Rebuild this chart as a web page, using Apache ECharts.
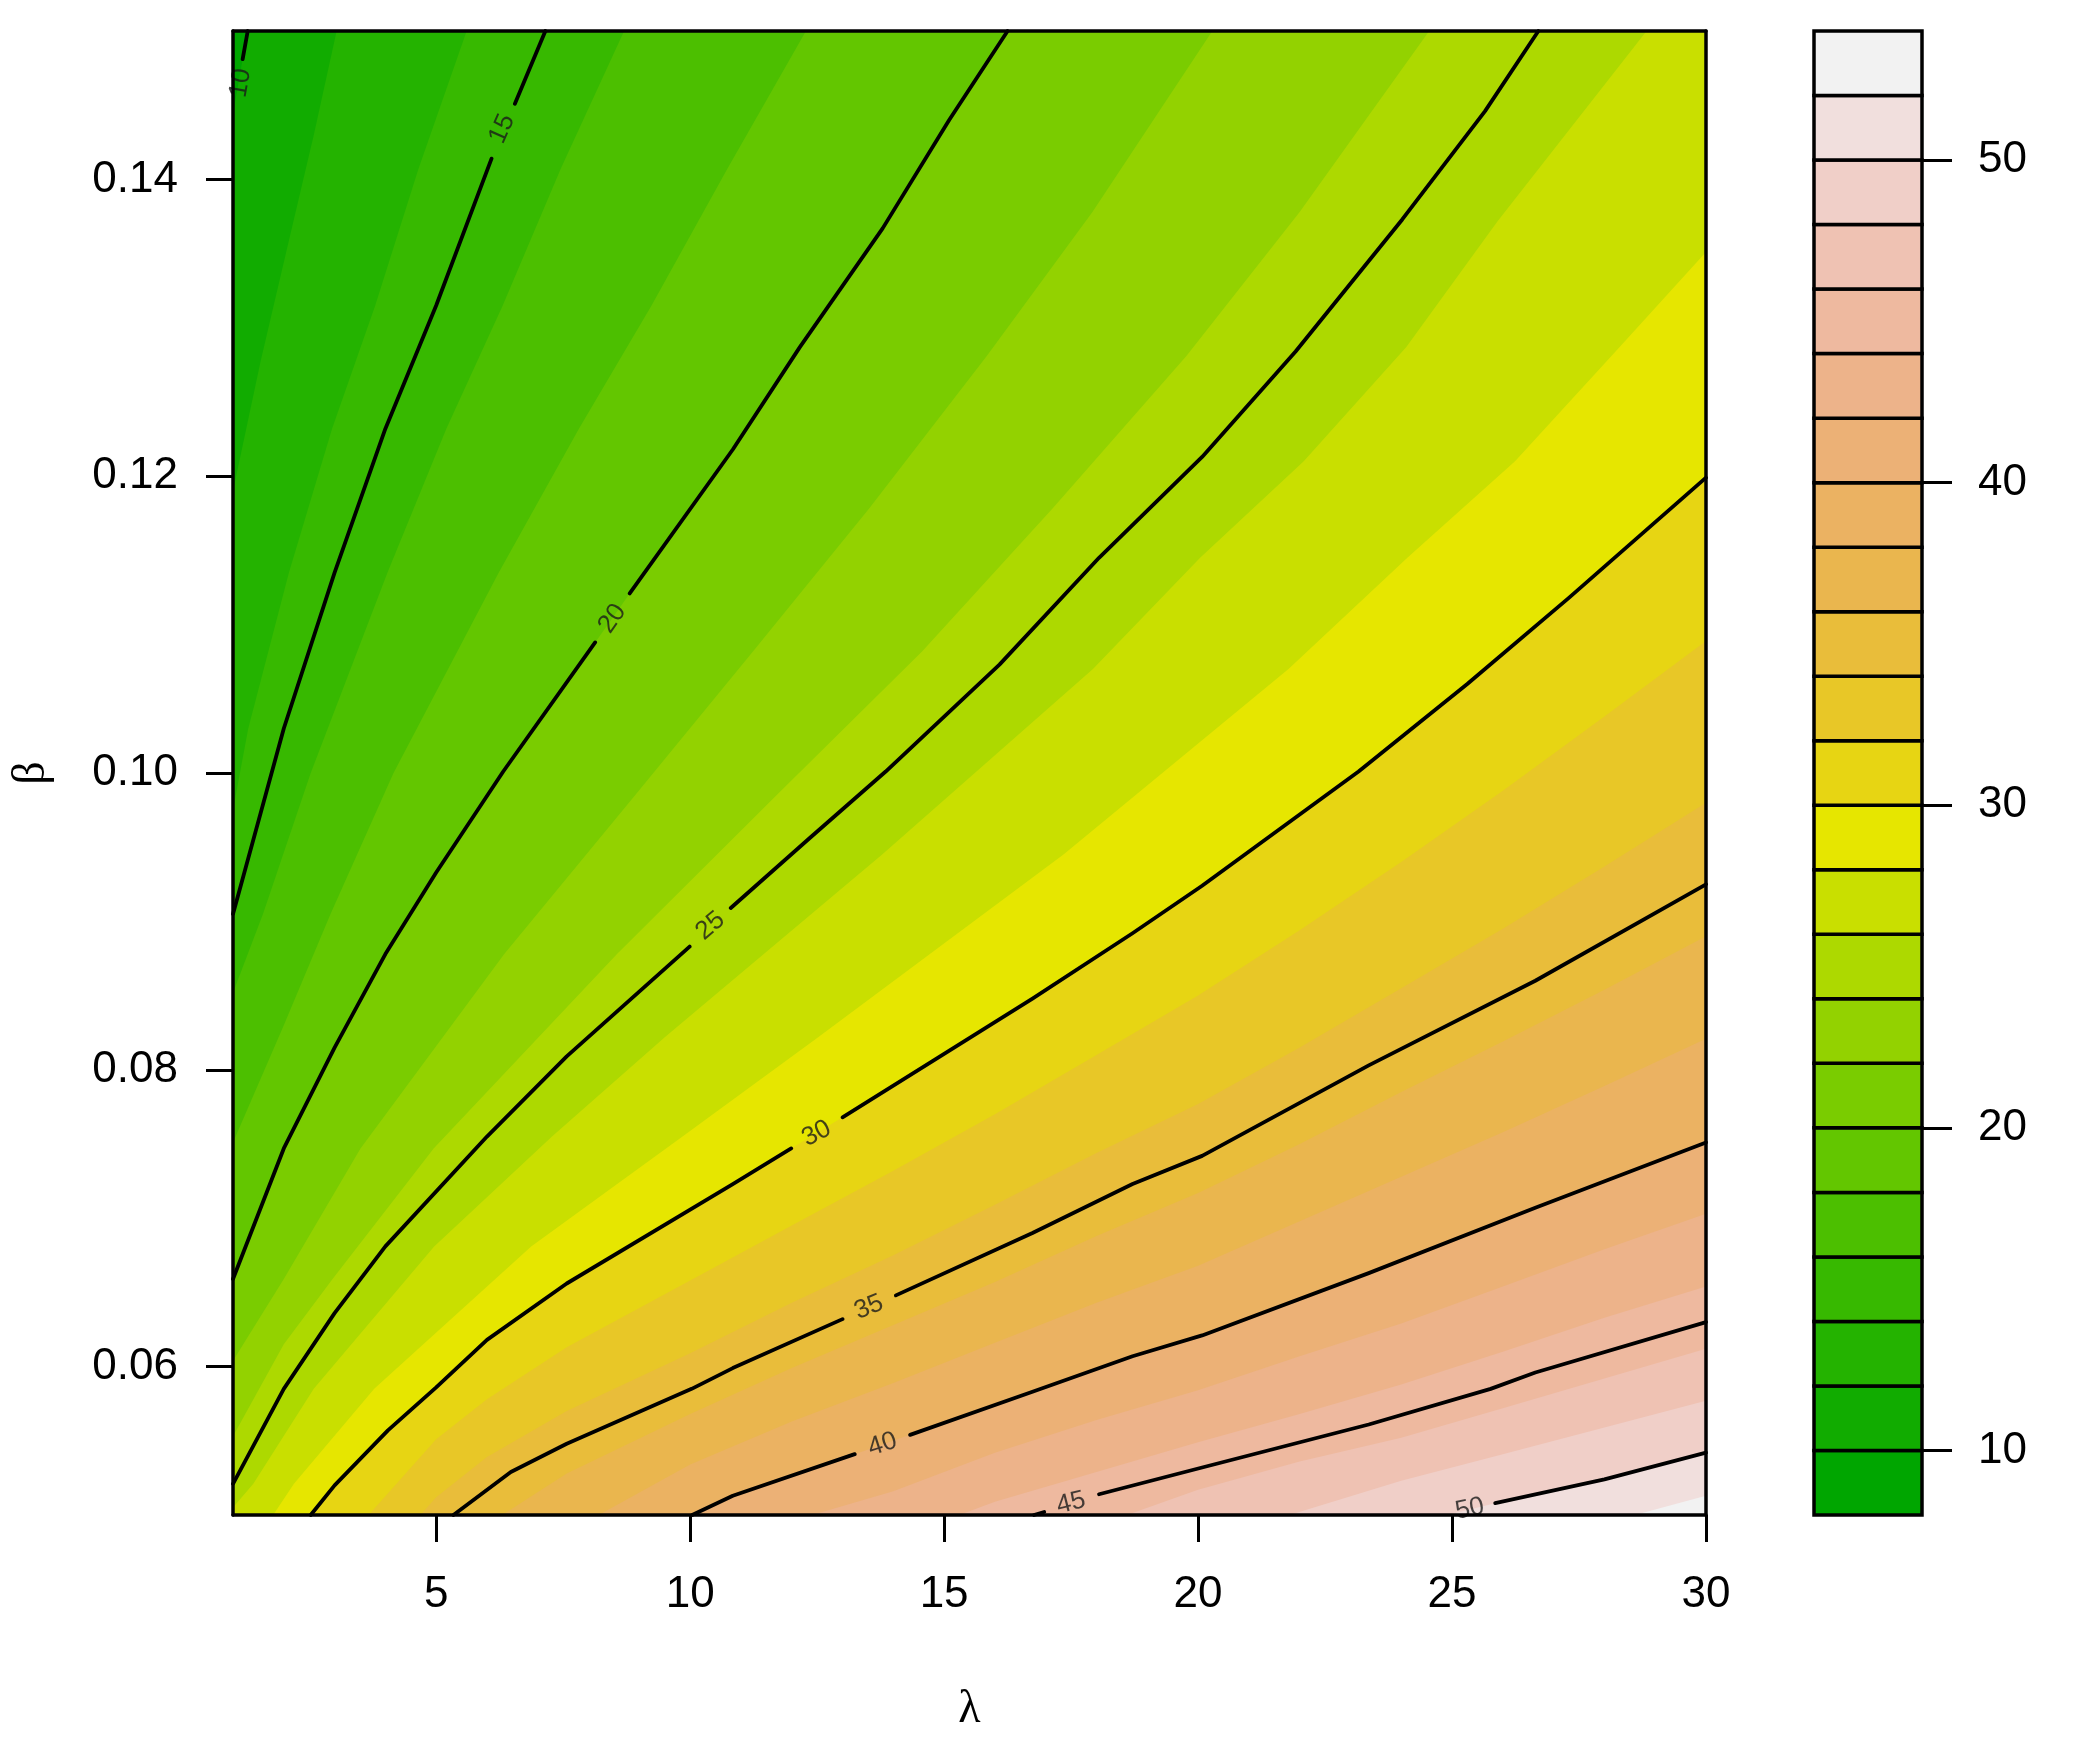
<!DOCTYPE html>
<html>
<head>
<meta charset="utf-8">
<script src="https://cdn.jsdelivr.net/npm/echarts@6/dist/echarts.min.js"></script>
<style>
html, body { margin: 0; padding: 0; background: #fff; }
#chart { width: 2098px; height: 1758px; }
</style>
</head>
<body>
<div id="chart"></div>
<script>
// contour lines as [lambda, beta]; null = gap left for the label
var line10 = [[1, 0.1444], null, [1.19, 0.1481], [1.29, 0.15]];
var line15 = [[1, 0.0905], [2, 0.1030], [3, 0.1135], [4, 0.1232], [5, 0.1315], [6.09, 0.1414], null, [6.55, 0.1451], [7.15, 0.15]];
var line20 = [[1, 0.0659], [2, 0.0747], [3, 0.0815], [4, 0.0878], [5, 0.0933], [6.32, 0.1001], [8.13, 0.1088], null,
  [8.81, 0.1121], [10.84, 0.1218], [12.16, 0.1287], [13.79, 0.1367], [15.1, 0.144], [16.25, 0.15]];
var line25 = [[1, 0.0521], [2, 0.0585], [3, 0.0636], [4, 0.0681], [6, 0.0755], [7.57, 0.0809], [9.99, 0.0883], null,
  [10.8, 0.0909], [12.35, 0.0956], [13.85, 0.1001], [16.09, 0.1073], [18.05, 0.1145], [20.08, 0.1213], [21.92, 0.1284],
  [24.02, 0.1373], [25.65, 0.1446], [26.7, 0.15]];
var line30 = [[2.53, 0.05], [3, 0.052], [4.05, 0.0557], [5, 0.0586], [6, 0.0618], [7.57, 0.0656], [10.84, 0.0723], [11.99, 0.0747], null,
  [13, 0.0768], [14.78, 0.0806], [16.74, 0.0848], [18.71, 0.0892], [20.08, 0.0924], [23.16, 0.1001], [25.3, 0.106], [27.3, 0.1118], [30, 0.1199]];
var line35 = [[5.34, 0.05], [6.47, 0.0529], [7.57, 0.0548], [10.03, 0.0585], [10.84, 0.0599], [13, 0.0632], null,
  [14.05, 0.0648], [16.74, 0.069], [18.71, 0.0723], [20.08, 0.0742], [23.36, 0.0803], [26.64, 0.086], [30, 0.0925]];
var line40 = [[10.04, 0.05], [10.84, 0.0513], [13.24, 0.0541], null, [14.33, 0.0554], [16.74, 0.0583], [18.71, 0.0607],
  [20.08, 0.0621], [23.36, 0.0663], [26.64, 0.0707], [30, 0.0751]];
var line45 = [[16.77, 0.05], [16.97, 0.0502], null, [18.05, 0.0514], [20.08, 0.0532], [23.36, 0.0561], [25.76, 0.0585], [26.64, 0.0596], [30, 0.063]];
var line50 = [[24.9, 0.05], null, [25.85, 0.0508], [28, 0.0524], [30, 0.0542]];

// colour-band edges that carry no drawn line
var edge12 = [[1, 0.119], [1.54, 0.1277], [2.06, 0.1353], [2.59, 0.143], [3.04, 0.15]];
var edge14 = [[1, 0.0975], [1.3, 0.103], [2.1, 0.1135], [2.95, 0.1232], [3.8, 0.1315], [4.65, 0.1407], [5.6, 0.15]];
var edge16 = [[1, 0.0852], [1.59, 0.0905], [2.53, 0.1], [4.04, 0.1135], [5.2, 0.1232], [6.31, 0.1315], [7.45, 0.1407], [8.7, 0.15]];
var edge18 = [[1, 0.0751], [2, 0.083], [2.92, 0.0905], [4.16, 0.1], [6.23, 0.1135], [7.81, 0.1232], [9.24, 0.1315], [10.73, 0.1407], [12.28, 0.15]];
var edge22 = [[1, 0.0604], [2, 0.0659], [3.51, 0.0747], [6.34, 0.0878], [8.94, 0.0986], [11.24, 0.1082], [13.52, 0.1178], [15.84, 0.1281], [17.92, 0.1378], [20.28, 0.15]];
var edge24 = [[1, 0.0553], [2, 0.0615], [2.96, 0.0659], [4.95, 0.0747], [8.56, 0.0878], [11.73, 0.0986], [14.57, 0.1082], [17.13, 0.1178], [19.77, 0.1281], [22, 0.1378], [24.55, 0.15]];
var edge26 = [[1, 0.0505], [1.4, 0.0521], [2.59, 0.0585], [4.96, 0.0681], [7.28, 0.0755], [9.5, 0.0822], [13.78, 0.0945], [17.93, 0.107],
  [20.04, 0.1145], [22.08, 0.121], [24.1, 0.1287], [25.9, 0.1372], [28.83, 0.15]];
var edge28 = [[1.79, 0.05], [2.2, 0.0521], [3.78, 0.0585], [6.87, 0.0681], [9.85, 0.0755], [12.52, 0.0822], [17.35, 0.0945], [21.78, 0.107],
  [24.12, 0.1145], [26.24, 0.121], [28.3, 0.1287], [30, 0.1351]];
var edge32 = [[3.67, 0.05], [5, 0.0551], [6, 0.0578], [7.57, 0.0613], [10, 0.0658], [12, 0.0695], [14, 0.0732], [16, 0.077], [18, 0.081],
  [20, 0.085], [22, 0.0894], [24, 0.094], [26, 0.0988], [28, 0.1038], [30, 0.1089]];
var edge34 = [[4.69, 0.05], [5, 0.0512], [6, 0.0539], [7.57, 0.057], [10, 0.0609], [12, 0.0643], [14, 0.0675], [16, 0.0709], [18, 0.0744],
  [20, 0.0777], [22, 0.0815], [24, 0.0855], [26, 0.0895], [28, 0.0937], [30, 0.098]];
var edge36 = [[6.3, 0.05], [7.57, 0.0528], [10, 0.0568], [12, 0.0599], [14, 0.0628], [16, 0.0657], [18, 0.0688], [20, 0.0717], [22, 0.075],
  [24, 0.0785], [26, 0.0819], [28, 0.0854], [30, 0.089]];
var edge38 = [[8.2, 0.05], [10, 0.0534], [12, 0.0563], [14, 0.0589], [16, 0.0616], [18, 0.0643], [20, 0.0668], [22, 0.0698], [24, 0.0728],
  [26, 0.0758], [28, 0.0789], [30, 0.0821]];
var edge42 = [[12.4, 0.05], [14, 0.0516], [16, 0.0542], [18, 0.0564], [20, 0.0584], [22, 0.0607], [24, 0.0629], [26, 0.0654], [28, 0.0679], [30, 0.0703]];
var edge44 = [[15.3, 0.05], [16, 0.0509], [18, 0.0529], [20, 0.0549], [22, 0.0568], [24, 0.0588], [26, 0.061], [28, 0.0633], [30, 0.0654]];
var edge46 = [[18.6, 0.05], [20, 0.0517], [22, 0.0536], [24, 0.0552], [26, 0.0572], [28, 0.0592], [30, 0.0612]];
var edge48 = [[21.8, 0.05], [24, 0.0523], [26, 0.0541], [28, 0.0559], [30, 0.0577]];
var edge52 = [[28.6, 0.05], [30, 0.0513]];

// contour labels
var labelText = ['10', '15', '20', '25', '30', '35', '40', '45', '50'];
var labelAt = [[1.15, 0.1465], [6.3, 0.1434], [8.47, 0.1104], [10.4, 0.0897], [12.49, 0.0757], [13.52, 0.064], [13.79, 0.05475], [17.5, 0.0508], [25.35, 0.0504]];
var labelAngle = [80, 66, 55, 40, 27, 22, 18, 14, 12];

// colour key and axes
var bandLows = [8, 10, 12, 14, 16, 18, 20, 22, 24, 26, 28, 30, 32, 34, 36, 38, 40, 42, 44, 46, 48, 50, 52];
var keyTicks = [10, 20, 30, 40, 50];
var xTicks = [5, 10, 15, 20, 25, 30];
var yTicks = [0.06, 0.08, 0.10, 0.12, 0.14];

var fillLevels = [10, 12, 14, 16, 18, 20, 22, 24, 26, 28, 30, 32, 34, 36, 38, 40, 42, 44, 46, 48, 50, 52];
var fillCurves = [line10, edge12, edge14, edge16, edge18, line20, edge22, edge24, edge26, edge28, line30,
  edge32, edge34, edge36, edge38, line40, edge42, edge44, edge46, edge48, line50, edge52];
var drawnLines = [line10, line15, line20, line25, line30, line35, line40, line45, line50];

function hsv(h, s, v) {
  var i = Math.floor(h * 6 + 1e-9), f = h * 6 - i;
  if (f < 0) f = 0;
  var p = v * (1 - s), q = v * (1 - f * s), t = v * (1 - (1 - f) * s);
  var r, g, b;
  switch (i % 6) {
    case 0: r = v; g = t; b = p; break;
    case 1: r = q; g = v; b = p; break;
    case 2: r = p; g = v; b = t; break;
    case 3: r = p; g = q; b = v; break;
    case 4: r = t; g = p; b = v; break;
    default: r = v; g = p; b = q;
  }
  return 'rgb(' + Math.round(r * 255) + ',' + Math.round(g * 255) + ',' + Math.round(b * 255) + ')';
}

// R terrain.colors(n)
function terrainColors(n) {
  var k = Math.floor(n / 2), out = [];
  for (var i = 0; i < k; i++) {
    var t = i / (k - 1);
    out.push(hsv(1 / 3 - t / 6, 1, 0.65 + 0.25 * t));
  }
  for (var j = 1; j <= n - k; j++) {
    var u = j / (n - k);
    out.push(hsv((1 - u) / 6, 1 - u, 0.9 + 0.05 * u));
  }
  return out;
}
var bandColors = terrainColors(bandLows.length);

var FONT = '"Liberation Sans", Arial, Helvetica, sans-serif';
var series = [];

// filled bands: each level paints everything below / right of its curve
fillLevels.forEach(function (lev, i) {
  var pts = fillCurves[i].filter(function (p) { return p; });
  if (pts[pts.length - 1][1] >= 0.15) pts.push([30, 0.15]);
  series.push({
    type: 'line', xAxisIndex: 0, yAxisIndex: 0, data: pts,
    symbol: 'none', silent: true, animation: false,
    lineStyle: { width: 0, opacity: 0 },
    areaStyle: { color: bandColors[bandLows.indexOf(lev)], opacity: 1, origin: 'start' },
    z: 2
  });
});

// black contour lines, broken where the labels sit
drawnLines.forEach(function (line) {
  var seg = [];
  line.concat([null]).forEach(function (p) {
    if (p) { seg.push(p); return; }
    if (seg.length > 1) {
      series.push({
        type: 'line', xAxisIndex: 0, yAxisIndex: 0, data: seg,
        symbol: 'none', silent: true, animation: false,
        lineStyle: { color: '#000', width: 3.8, cap: 'round', join: 'round' }, z: 3
      });
    }
    seg = [];
  });
});

series.push({
  type: 'scatter', xAxisIndex: 0, yAxisIndex: 0, symbolSize: 0, silent: true, animation: false, z: 4,
  data: labelAt.map(function (p, i) {
    return { value: p, name: labelText[i], label: { rotate: labelAngle[i] } };
  }),
  label: {
    show: true, position: 'inside', formatter: '{b}',
    color: '#1a1a1a', fontSize: 26, fontFamily: FONT
  }
});

// colour key
series.push({
  type: 'custom', xAxisIndex: 2, yAxisIndex: 2, silent: true, animation: false,
  data: bandLows.map(function (lo) { return [0, lo]; }),
  encode: { x: 0, y: 1 },
  renderItem: function (params, api) {
    var lo = api.value(1);
    var a = api.coord([0, lo]);
    var b = api.coord([1, lo + 2]);
    return {
      type: 'rect',
      shape: { x: a[0], y: b[1], width: b[0] - a[0], height: a[1] - b[1] },
      style: { fill: bandColors[params.dataIndex], stroke: '#000', lineWidth: 3.5 }
    };
  }
});

var frameLine = { show: true, onZero: false, lineStyle: { color: '#000', width: 3.5 } };
var labelStyle = { color: '#000', fontSize: 44, fontFamily: FONT };

var option = {
  backgroundColor: '#fff',
  animation: false,
  grid: [
    { left: 233, top: 31, width: 1473, height: 1484, show: true, backgroundColor: bandColors[0], borderWidth: 0, outerBoundsMode: 'none' },
    { left: 1814, top: 31, width: 108, height: 1484, outerBoundsMode: 'none' }
  ],
  xAxis: [
    {
      type: 'value', gridIndex: 0, min: 1, max: 30, position: 'bottom', z: 10,
      name: 'λ', nameLocation: 'middle', nameGap: 172, nameMoveOverlap: false,
      nameTextStyle: { color: '#000', fontSize: 46, fontFamily: '"Liberation Serif", "DejaVu Serif", serif' },
      axisLine: frameLine,
      axisTick: { show: true, inside: false, length: 27, customValues: xTicks, lineStyle: { color: '#000', width: 3 } },
      axisLabel: Object.assign({ show: true, margin: 58, customValues: xTicks }, labelStyle),
      splitLine: { show: false }
    },
    {
      type: 'value', gridIndex: 0, min: 1, max: 30, position: 'top', z: 10,
      axisLine: frameLine, axisTick: { show: false }, axisLabel: { show: false }, splitLine: { show: false }
    },
    {
      type: 'value', gridIndex: 1, min: 0, max: 1, show: false
    }
  ],
  yAxis: [
    {
      type: 'value', gridIndex: 0, min: 0.05, max: 0.15, position: 'left', z: 10,
      name: 'β', nameLocation: 'middle', nameGap: 178, nameRotate: 90, nameMoveOverlap: false,
      nameTextStyle: { color: '#000', fontSize: 46, fontFamily: '"Liberation Serif", "DejaVu Serif", serif' },
      axisLine: frameLine,
      axisTick: { show: true, inside: false, length: 27, customValues: yTicks, lineStyle: { color: '#000', width: 3 } },
      axisLabel: Object.assign({
        show: true, margin: 55, customValues: yTicks,
        formatter: function (v) { return v.toFixed(2); }
      }, labelStyle),
      splitLine: { show: false }
    },
    {
      type: 'value', gridIndex: 0, min: 0.05, max: 0.15, position: 'right', z: 10,
      axisLine: frameLine, axisTick: { show: false }, axisLabel: { show: false }, splitLine: { show: false }
    },
    {
      type: 'value', gridIndex: 1, min: 8, max: 54, position: 'right', z: 10,
      axisLine: { show: false, onZero: false },
      axisTick: { show: true, inside: false, length: 30, customValues: keyTicks, lineStyle: { color: '#000', width: 3 } },
      axisLabel: Object.assign({ show: true, margin: 56, customValues: keyTicks }, labelStyle),
      splitLine: { show: false }
    }
  ],
  series: series
};

var myChart = echarts.init(document.getElementById('chart'));
myChart.setOption(option);
</script>
</body>
</html>
